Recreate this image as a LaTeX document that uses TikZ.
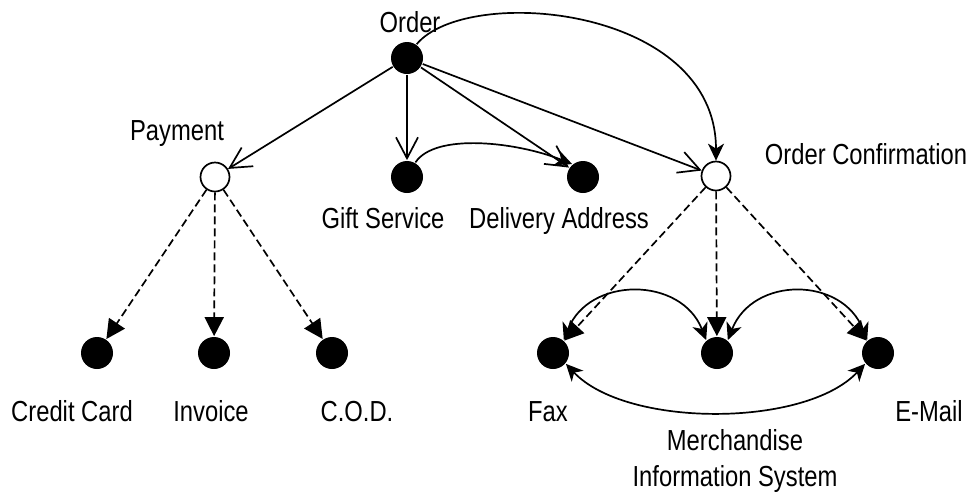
\documentclass[tikz,border=0pt]{standalone}
\usepackage{fontspec}
\setmainfont{Liberation Sans}[FakeStretch=0.82]
\usetikzlibrary{arrows.meta}
\begin{document}
\begin{tikzpicture}[x=1pt, y=-1pt, line width=1.7pt,
  font=\fontsize{29}{36}\selectfont,
  dot/.style={circle, fill=black, inner sep=0pt, minimum size=32pt},
  hollow/.style={circle, draw, fill=white, inner sep=0pt, minimum size=29pt},
  lbl/.style={anchor=base, inner sep=0pt},
  sub/.style={-{Straight Barb[length=21pt,width=22pt]}},
  opt/.style={dash pattern=on 8pt off 4pt, -{Triangle[length=19pt,width=19pt]}},
  curv/.style={-{Stealth[length=17pt,width=16pt,inset=5pt]}},
  both/.style={{Stealth[length=17pt,width=16pt,inset=5pt]}-{Stealth[length=17pt,width=16pt,inset=5pt]}}]
\useasboundingbox (0,0) rectangle (971,491);

% feature nodes
\node[dot]    (order) at (407,58)  {};
\node[hollow] (pay)   at (215,177) {};
\node[dot]    (gift)  at (407,177) {};
\node[dot]    (deliv) at (583,177) {};
\node[hollow] (conf)  at (716,176) {};
\node[dot]    (cc)    at (97,353)  {};
\node[dot]    (inv)   at (214,353) {};
\node[dot]    (cod)   at (332,353) {};
\node[dot]    (fax)   at (553,353) {};
\node[dot]    (mis)   at (717,353) {};
\node[dot]    (mail)  at (878,353) {};

% labels
\node[lbl] (tOrder) at (410,32)  {Order};
\node[lbl] (tPay)   at (177,140) {Payment};
\node[lbl] (tGift)  at (383,228) {Gift Service};
\node[lbl] (tDel)   at (559,228) {Delivery Address};
\node[lbl] (tConf)  at (866,164) {Order Confirmation};
\node[lbl] (tCC)    at (72,421)  {Credit Card};
\node[lbl] (tInv)   at (211,421) {Invoice};
\node[lbl] (tCOD)   at (357,421) {C.O.D.};
\node[lbl] (tFax)   at (548,421) {Fax};
\node[lbl] (tMail)  at (929,421) {E-Mail};
\node[lbl] (tMis1)  at (735,450) {Merchandise};
\node[lbl] (tMis2)  at (735,486) {Information System};

% sub-features of Order
\draw[sub] (order) -- (pay);
\draw[sub] (order) -- (gift);
\draw[sub] (order) -- (deliv);
\draw[sub] (order) -- (conf);
\draw[curv] (order.55) .. controls +(50,-60) and +(0,-155) .. (conf.north);
\draw[curv] (gift.60) .. controls +(20,-30) and +(-55,-22) .. (deliv.130);

% alternatives
\draw[opt] (pay) -- (cc);
\draw[opt] (pay) -- (inv);
\draw[opt] (pay) -- (cod);
\draw[opt] (conf) -- (fax);
\draw[opt] (conf) -- (mis);
\draw[opt] (conf) -- (mail);

% mutual relations between confirmation channels
\draw[both] (fax.50) .. controls +(25,-64) and +(-25,-64) .. (mis.130);
\draw[both] (mis.50) .. controls +(25,-64) and +(-25,-64) .. (mail.130);
\draw[both] (fax.-40) .. controls +(60,64) and +(-60,64) .. (mail.-140);
\end{tikzpicture}
\end{document}
